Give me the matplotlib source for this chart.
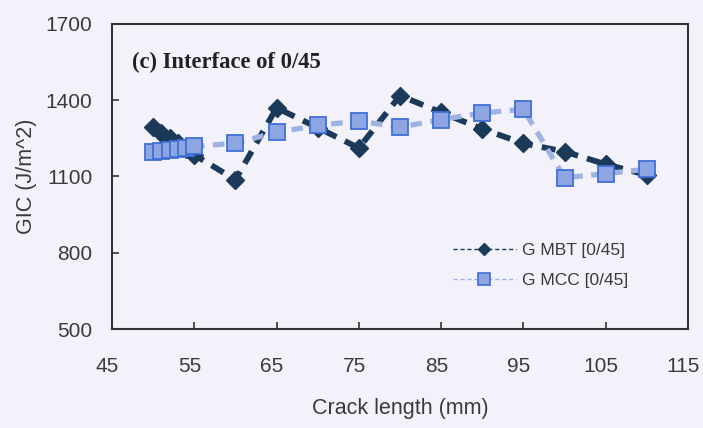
import matplotlib
matplotlib.use("Agg")
import matplotlib.pyplot as plt
import matplotlib.transforms as mtransforms
from matplotlib.lines import Line2D

# Crack length (mm) and fracture toughness GIC (J/m^2)
crack_mbt = [50, 51, 52, 53, 54, 55, 60, 65, 70, 75, 80, 85, 90, 95, 100, 105, 110]
gic_mbt = [1295, 1270, 1250, 1230, 1210, 1185, 1087, 1370, 1292, 1212, 1418, 1352, 1287, 1230, 1198, 1148, 1106]

crack_mcc = [50, 51, 52, 53, 54, 55, 60, 65, 70, 75, 80, 85, 90, 95, 100, 105, 110]
gic_mcc = [1198, 1202, 1206, 1209, 1212, 1218, 1231, 1274, 1301, 1318, 1294, 1324, 1350, 1364, 1095, 1111, 1129]

x_ticks = [45, 55, 65, 75, 85, 95, 105, 115]
y_ticks = [500, 800, 1100, 1400, 1700]

label_mbt = "G MBT [0/45]"
label_mcc = "G MCC [0/45]"
panel_title = "(c) Interface of 0/45"

bg = "#f3f2fa"
navy = "#1b3a5a"
sq_face = "#8da6e2"
sq_edge = "#3f6fd6"
light_line = "#9fb3e3"
text_col = "#3a3a3a"

plt.rcParams["font.family"] = ["Liberation Sans", "DejaVu Sans"]

fig = plt.figure(figsize=(7.03, 4.28), dpi=100, facecolor=bg)
ax = fig.add_axes([0.1593, 0.2313, 0.8194, 0.7127])
ax.set_facecolor(bg)

ax.plot(crack_mcc, gic_mcc, color=light_line, lw=3.8, dashes=(2.2, 1.6),
        marker="s", ms=11, mfc=sq_face, mec=sq_edge, mew=1.3, zorder=3)
ax.plot(crack_mbt, gic_mbt, color=navy, lw=4.2, dashes=(2.4, 1.6),
        marker="D", ms=9, mfc=navy, mec=navy, zorder=2)

ax.set_xlim(45, 115)
ax.set_ylim(500, 1700)
ax.set_xticks(x_ticks)
ax.set_yticks(y_ticks)
ax.tick_params(direction="in", length=5, width=1.2, colors="#333333",
               labelcolor=text_col, labelsize=15)
ax.tick_params(axis="x", pad=20)
ax.tick_params(axis="y", pad=14)
for s in ax.spines.values():
    s.set_color("#333333")
    s.set_linewidth(1.5)

# x tick labels sit a little to the left of their ticks
shift = mtransforms.ScaledTranslation(-4.5 / 100, 0, fig.dpi_scale_trans)
for lbl in ax.get_xticklabels():
    lbl.set_transform(lbl.get_transform() + shift)

ax.set_xlabel("Crack length (mm)", fontsize=15.5, color=text_col, labelpad=16)
ax.set_ylabel("GIC (J/m^2)", fontsize=15.5, color=text_col, labelpad=6)

ax.text(0.034, 0.875, panel_title, transform=ax.transAxes, fontsize=16.3,
        fontweight="bold", family=["Liberation Serif", "DejaVu Serif"],
        color="#222222", va="center", ha="left")

handles = [
    Line2D([], [], color=navy, lw=1.0, dashes=(3, 2), marker="D", ms=6,
           mfc=navy, mec=navy),
    Line2D([], [], color=light_line, lw=1.0, dashes=(3, 2), marker="s", ms=8,
           mfc=sq_face, mec=sq_edge, mew=1.2),
]
leg = ax.legend(handles, [label_mbt, label_mcc], loc="upper left",
                bbox_to_anchor=(0.58, 0.305), frameon=False, fontsize=12.5,
                handlelength=3.6, handletextpad=0.35, labelspacing=0.85,
                borderaxespad=0)
for t in leg.get_texts():
    t.set_color(text_col)

fig.savefig("out.png", dpi=100, facecolor=bg)
